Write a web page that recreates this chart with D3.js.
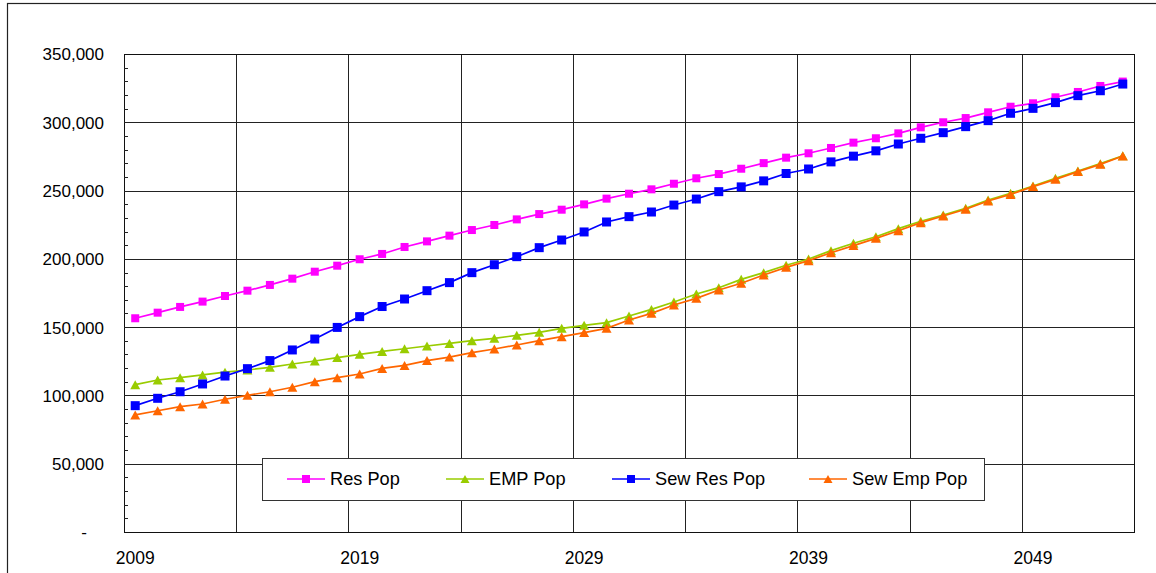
<!DOCTYPE html>
<html>
<head>
<meta charset="utf-8">
<script src="https://cdn.jsdelivr.net/npm/d3@7"></script>
<style>
  html, body { margin: 0; padding: 0; background: #fff; }
  svg { display: block; }
  text { font-family: "Liberation Sans", Arial, sans-serif; fill: #000; }
</style>
</head>
<body>
<svg id="chart" width="1156" height="573"></svg>
<script>
// Projection years (category axis)
const years = d3.range(2009, 2054).map(String);
const xTickLabels = ["2009", "2019", "2029", "2039", "2049"];
const yTicks = [0, 50000, 100000, 150000, 200000, 250000, 300000, 350000];

// Population series, one value per year
const resPop = [156500, 160600, 164800, 168700, 172800, 176700, 180900, 185500, 190600, 195000,
  199700, 203600, 208700, 212800, 217000, 221100, 224800, 228900, 232800, 236000,
  239900, 244100, 247700, 250900, 255000, 259000, 262100, 266000, 270100, 274100,
  277300, 281200, 285100, 288300, 291900, 296300, 300000, 303100, 307300, 311400,
  313900, 318300, 322200, 326600, 329800];
const empPop = [107900, 111300, 113000, 115000, 117000, 118600, 120600, 123000, 125200, 127700,
  130100, 132200, 134200, 136200, 138100, 140100, 141800, 144000, 146200, 149100,
  151300, 153300, 158200, 163000, 168400, 174300, 178900, 185000, 189900, 195300,
  199900, 206000, 211400, 216200, 222100, 227500, 232100, 237000, 243100, 248000,
  253300, 259000, 264300, 269700, 275500];
const sewResPop = [92500, 97900, 102700, 108400, 114200, 119600, 125500, 133300, 141300, 149800,
  157700, 165100, 170600, 176700, 182600, 189900, 195700, 201600, 208200, 213800,
  219700, 227000, 230900, 234300, 239400, 243800, 249200, 252700, 257100, 262500,
  265800, 271000, 275200, 279100, 284100, 288300, 292400, 296800, 301200, 306600,
  310200, 314400, 319500, 323100, 328000];
const sewEmpPop = [85700, 88800, 91800, 93700, 97200, 100100, 102700, 106000, 110100, 113000,
  115700, 119800, 122000, 125500, 128100, 131300, 134000, 136900, 140100, 143000,
  146000, 149100, 155200, 160100, 166200, 171100, 177200, 182100, 188200, 193800,
  198700, 204500, 209700, 215000, 220600, 226500, 231400, 236300, 242400, 247200,
  252900, 258200, 263900, 269200, 275300];

const seriesNames = ["Res Pop", "EMP Pop", "Sew Res Pop", "Sew Emp Pop"];
const seriesColors = ["#FF00FF", "#99CC00", "#0000FF", "#FF6600"];

const series = [
  { name: seriesNames[0], values: resPop, color: seriesColors[0], shape: "square", size: 8 },
  { name: seriesNames[1], values: empPop, color: seriesColors[1], shape: "triangle", size: 10 },
  { name: seriesNames[2], values: sewResPop, color: seriesColors[2], shape: "square", size: 9 },
  { name: seriesNames[3], values: sewEmpPop, color: seriesColors[3], shape: "triangle", size: 10 }
];

const svg = d3.select("#chart");
const plot = { left: 124, right: 1134, top: 54, bottom: 532 };

// Outer chart frame
svg.append("rect")
  .attr("x", 7.5).attr("y", 3.5)
  .attr("width", 1300).attr("height", 800)
  .attr("fill", "#fff").attr("stroke", "#222").attr("stroke-width", 1.2);

const x = d3.scaleBand().domain(years).range([plot.left, plot.right]).padding(0);
const y = d3.scaleLinear().domain([0, 350000]).range([plot.bottom, plot.top]);
const cx = yr => x(yr) + x.bandwidth() / 2;

const crisp = v => Math.round(v) + 0.5;

// Horizontal gridlines
svg.append("g").selectAll("line")
  .data(yTicks.filter(v => v > 0))
  .join("line")
  .attr("x1", plot.left).attr("x2", plot.right)
  .attr("y1", d => crisp(y(d))).attr("y2", d => crisp(y(d)))
  .attr("stroke", "#222").attr("stroke-width", 1);

// Vertical gridlines every fifth year boundary
svg.append("g").selectAll("line")
  .data(years.filter((d, i) => i > 0 && i % 5 === 0))
  .join("line")
  .attr("x1", d => crisp(x(d))).attr("x2", d => crisp(x(d)))
  .attr("y1", plot.top).attr("y2", plot.bottom)
  .attr("stroke", "#222").attr("stroke-width", 1);

// Plot area border
svg.append("rect")
  .attr("x", crisp(plot.left)).attr("y", crisp(plot.top))
  .attr("width", Math.round(plot.right - plot.left)).attr("height", Math.round(plot.bottom - plot.top))
  .attr("fill", "none").attr("stroke", "#111").attr("stroke-width", 1);

// Y axis: labels plus minor ticks pointing into the plot
const yAxis = d3.axisLeft(y)
  .tickValues(yTicks)
  .tickSize(0)
  .tickPadding(0)
  .tickFormat(d => d === 0 ? "-" : d3.format(",")(d));
const gy = svg.append("g").attr("transform", `translate(${plot.left},0)`).call(yAxis);
gy.select(".domain").remove();
gy.selectAll("text")
  .attr("x", d => d === 0 ? -37 : -20)
  .attr("dy", "0.35em")
  .style("font-size", "17px")
  .style("font-family", "'Liberation Sans', Arial, sans-serif");

svg.append("g").selectAll("line")
  .data(d3.range(10000, 350000, 10000))
  .join("line")
  .attr("x1", plot.left).attr("x2", plot.left + 4)
  .attr("y1", d => crisp(y(d))).attr("y2", d => crisp(y(d)))
  .attr("stroke", "#222").attr("stroke-width", 1);

// X axis labels every ten years
const xAxis = d3.axisBottom(x).tickValues(xTickLabels).tickSize(0).tickPadding(0);
const gx = svg.append("g").attr("transform", `translate(0,${plot.bottom})`).call(xAxis);
gx.select(".domain").remove();
gx.selectAll("text")
  .attr("y", 32).attr("dy", 0)
  .style("font-size", "17.5px")
  .style("font-family", "'Liberation Sans', Arial, sans-serif");

// Marker drawing
function drawMarker(g, shape, size, color, px, py) {
  if (shape === "square") {
    g.append("rect")
      .attr("x", px - size / 2).attr("y", py - size / 2)
      .attr("width", size).attr("height", size)
      .attr("fill", color);
  } else {
    const h = size * 0.9;
    g.append("path")
      .attr("d", `M${px},${py - h / 2}L${px + size / 2},${py + h / 2}L${px - size / 2},${py + h / 2}Z`)
      .attr("fill", color);
  }
}

const line = d3.line().x(d => cx(d.year)).y(d => y(d.value));

series.forEach(s => {
  const pts = years.map((yr, i) => ({ year: yr, value: s.values[i] }));
  const g = svg.append("g");
  g.append("path")
    .datum(pts)
    .attr("d", line)
    .attr("fill", "none")
    .attr("stroke", s.color)
    .attr("stroke-width", 1.7);
  pts.forEach(p => drawMarker(g, s.shape, s.size, s.color, cx(p.year), y(p.value)));
});

// Legend
const legend = svg.append("g");
legend.append("rect")
  .attr("x", 262.5).attr("y", 458.5).attr("width", 722).attr("height", 42)
  .attr("fill", "#fff").attr("stroke", "#333").attr("stroke-width", 1);

const legendX = [287, 446, 612, 809];
series.forEach((s, i) => {
  const lx = legendX[i];
  const ly = 479;
  legend.append("line")
    .attr("x1", lx).attr("x2", lx + 38)
    .attr("y1", ly).attr("y2", ly)
    .attr("stroke", s.color).attr("stroke-width", 1.6);
  drawMarker(legend, s.shape, s.shape === "square" ? 8 : 9, s.color, lx + 19, ly);
  legend.append("text")
    .attr("x", lx + 43).attr("y", ly + 6)
    .style("font-size", "18.2px")
    .text(s.name);
});
</script>
</body>
</html>
